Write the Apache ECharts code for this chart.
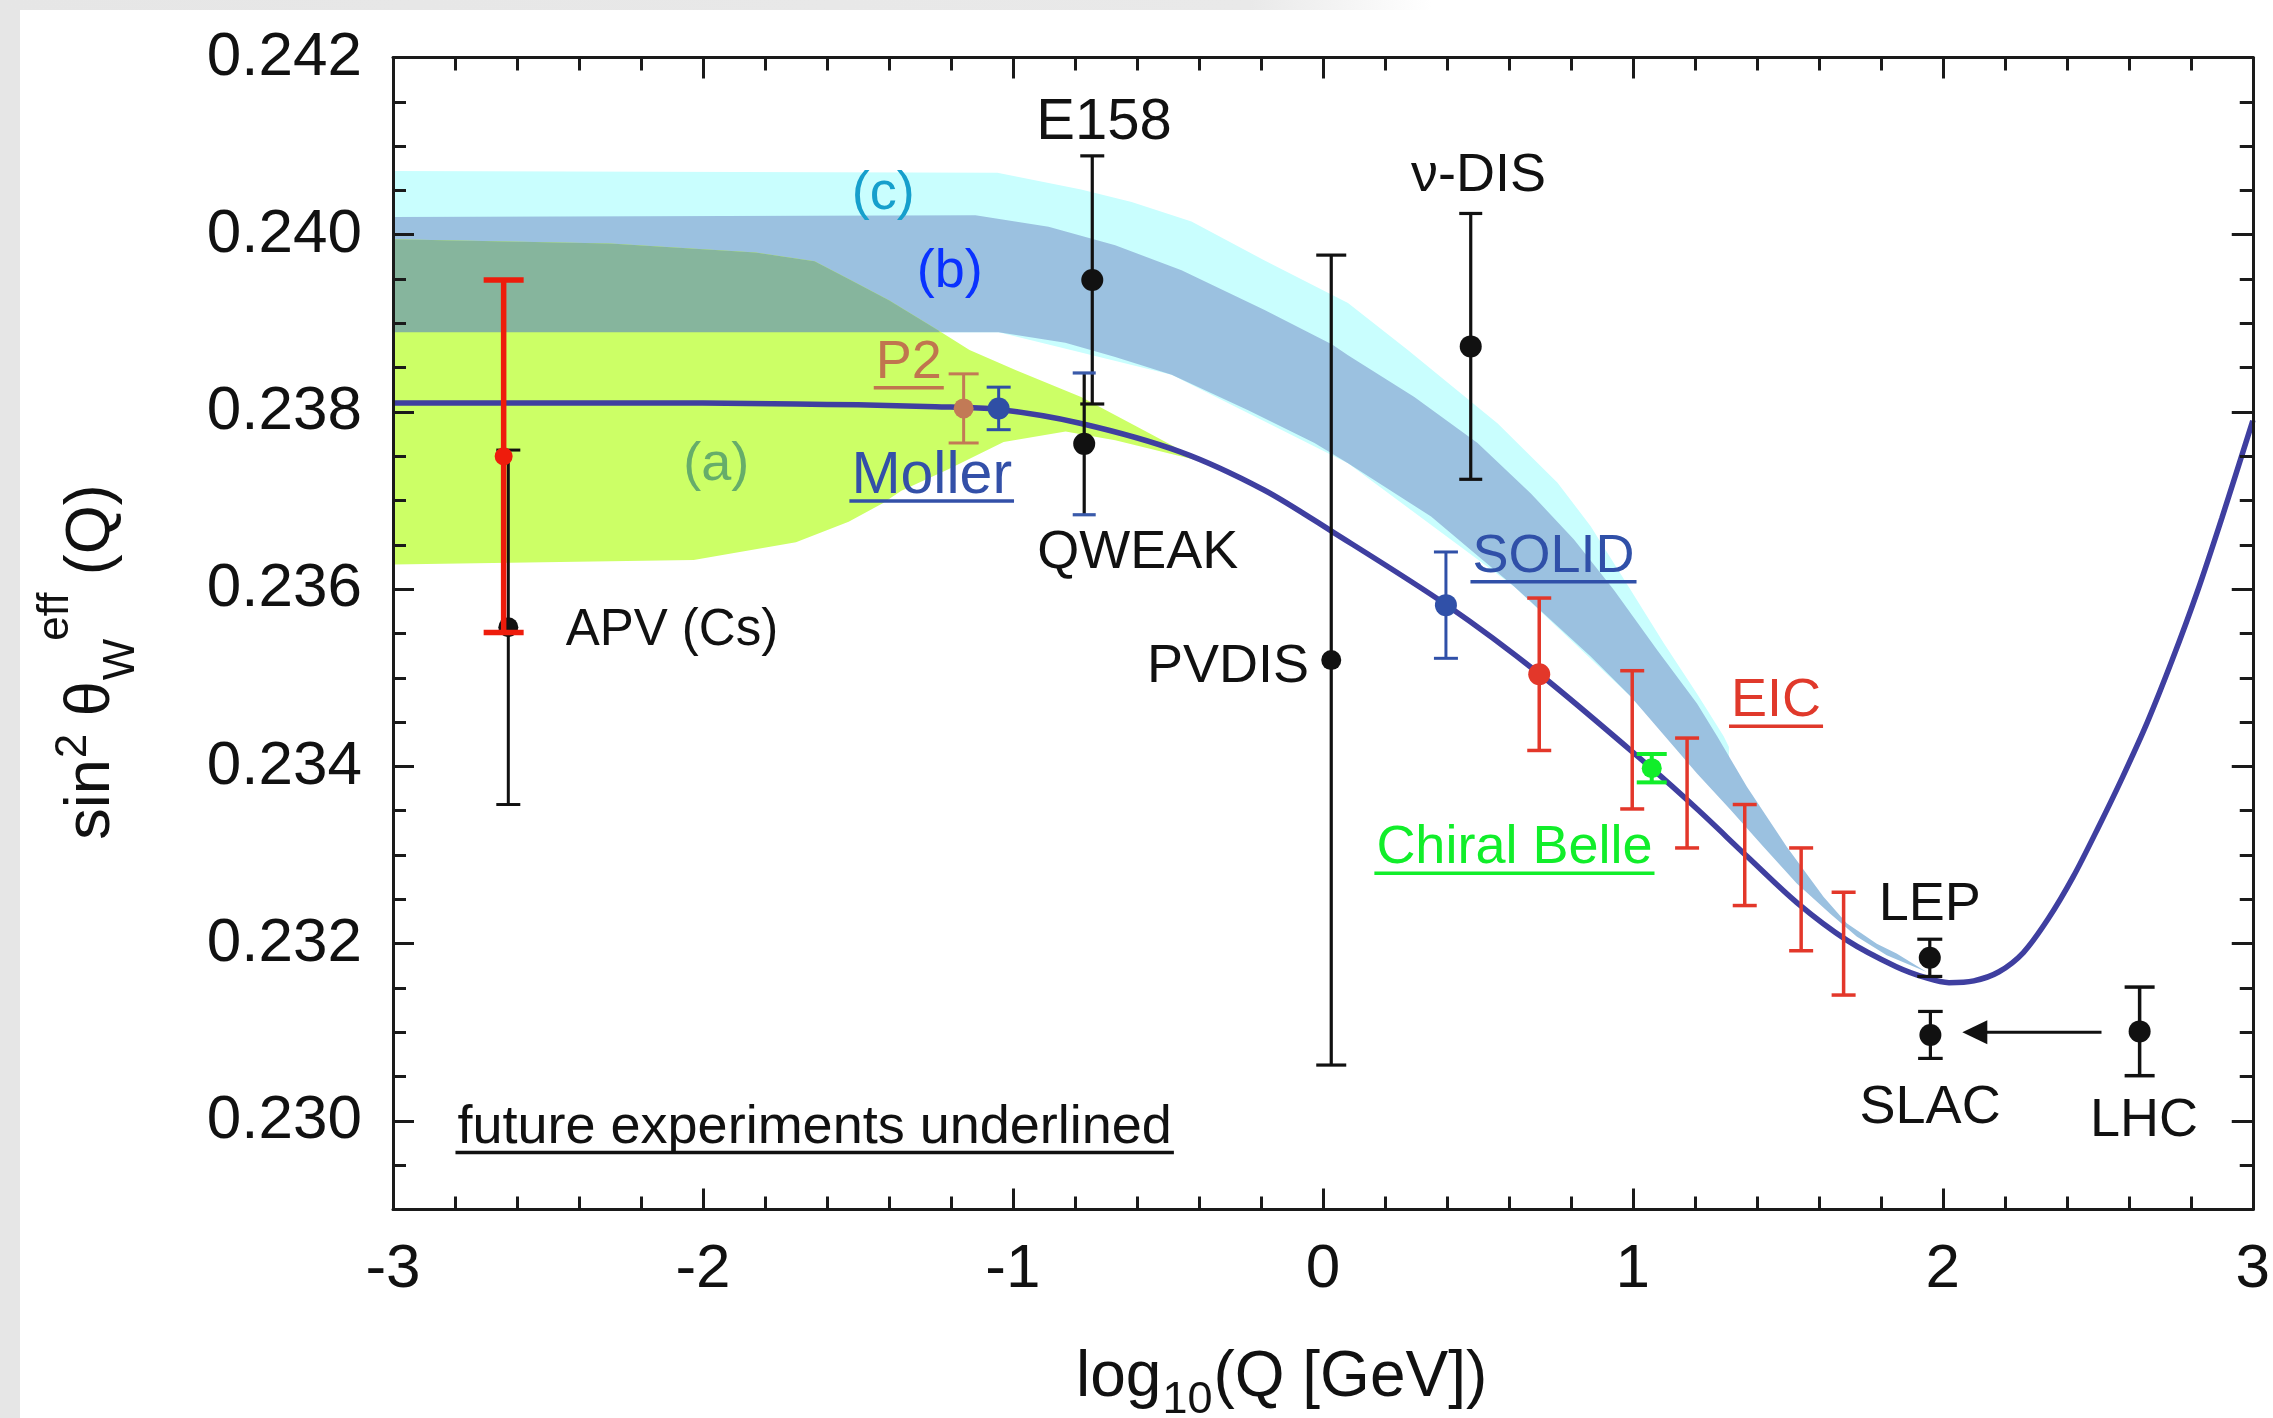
<!DOCTYPE html>
<html>
<head>
<meta charset="utf-8">
<script src="https://cdn.jsdelivr.net/npm/echarts@6/dist/echarts.min.js"></script>
<style>
html,body{margin:0;padding:0;background:#ffffff;}
#c{width:2273px;height:1418px;}
</style>
</head>
<body>
<div id="c"></div>
<script>
// ---------------- DATA ----------------
const xTicks = [-3, -2, -1, 0, 1, 2, 3];
const yTicks = [0.230, 0.232, 0.234, 0.236, 0.238, 0.240, 0.242];

// Standard-model running curve
const smX = [-3, -2.5, -2, -1.7, -1.5, -1.25, -1.05, -0.78, -0.46, -0.19, 0.03, 0.40, 0.70, 1.06, 1.21, 1.37, 1.53, 1.69, 1.85, 1.95, 2.02, 2.10, 2.18, 2.26, 2.34, 2.42, 2.50, 2.58, 2.66, 2.74, 2.82, 2.90, 3.00];
const smY = [0.23810, 0.23810, 0.23810, 0.23809, 0.23808, 0.23806, 0.23803, 0.23787, 0.23755, 0.23712, 0.23665, 0.23582, 0.23504, 0.23398, 0.23351, 0.23298, 0.23246, 0.23204, 0.23174, 0.23161, 0.23156, 0.23158, 0.23168, 0.23190, 0.23228, 0.23275, 0.23330, 0.23388, 0.23450, 0.23520, 0.23596, 0.23680, 0.23790];

// Band (c) edges
const cUpper = [[-3, 0.24072], [-1.05, 0.24070], [-0.78, 0.24051], [-0.617, 0.24037], [-0.424, 0.24015], [-0.188, 0.23971], [0.081, 0.23923], [0.274, 0.23870], [0.564, 0.23787], [0.757, 0.23720], [0.864, 0.23671], [0.993, 0.23599], [1.100, 0.23539], [1.207, 0.23482], [1.293, 0.23434], [1.31, 0.23422]];
const cLower = [[1.31, 0.23355], [0.993, 0.23479], [0.617, 0.23603], [0.081, 0.23742], [-0.488, 0.23842], [-1.046, 0.23890], [-3, 0.23890]];
// Band (b) edges
const bUpper = [[-3, 0.24020], [-1.121, 0.24022], [-0.885, 0.24009], [-0.670, 0.23988], [-0.456, 0.23960], [-0.188, 0.23915], [0.03, 0.23876], [0.081, 0.23864], [0.295, 0.23817], [0.499, 0.23765], [0.671, 0.23708], [0.810, 0.23656], [0.939, 0.23599], [1.079, 0.23531], [1.207, 0.23471], [1.272, 0.23434], [1.368, 0.23377], [1.497, 0.23309], [1.615, 0.23253], [1.690, 0.23223], [1.787, 0.23200], [1.851, 0.23189], [1.948, 0.23168]];
const bLower = [[-3, 0.23890], [-1.046, 0.23890], [-0.831, 0.23878], [-0.670, 0.23862], [-0.488, 0.23842], [-0.241, 0.23802], [-0.027, 0.23765], [0.081, 0.23742], [0.349, 0.23682], [0.617, 0.23603], [0.864, 0.23524], [0.993, 0.23479], [1.207, 0.23392], [1.315, 0.23351], [1.422, 0.23309], [1.529, 0.23268], [1.636, 0.23234], [1.722, 0.23208], [1.819, 0.23187], [1.948, 0.23168]];
// Band (a) edges
const aUpper = [[-3, 0.23995], [-2.3, 0.23990], [-1.83, 0.23980], [-1.64, 0.23970], [-1.53, 0.23950], [-1.40, 0.23926], [-1.24, 0.23892], [-1.14, 0.23870], [-0.99, 0.23847], [-0.78, 0.23817], [-0.56, 0.23776], [-0.39, 0.23744]];
const aLower = [[-0.39, 0.23744], [-0.67, 0.23768], [-0.83, 0.23778], [-1.03, 0.23766], [-1.21, 0.23735], [-1.36, 0.23711], [-1.42, 0.23697], [-1.53, 0.23676], [-1.70, 0.23653], [-2.03, 0.23633], [-3, 0.23628]];
// overlap of (a) and (b)
const abUpper = [[-3, 0.23995], [-2.3, 0.23990], [-1.83, 0.23980], [-1.64, 0.23970], [-1.53, 0.23950], [-1.40, 0.23926], [-1.24, 0.23892], [-1.235, 0.23890]];
const abLower = [[-1.235, 0.23890], [-3, 0.23890]];

// Measurements: [log10 Q, sin2theta, error]
const apvCs      = [[-2.628, 0.23557, 0.00200]];
const apvFuture  = [[-2.643, 0.23750, 0.00199]];
const p2         = [[-1.159, 0.23804, 0.00039]];
const moller     = [[-1.046, 0.23804, 0.00024]];
const e158       = [[-0.744, 0.23949, 0.00140]];
const qweak      = [[-0.770, 0.23764, 0.00080]];
const pvdis      = [[0.027, 0.23520, 0.00457]];
const nuDis      = [[0.477, 0.23874, 0.00150]];
const solid      = [[0.397, 0.23582, 0.00060]];
const eicPoint   = [[0.698, 0.23504, 0.00086]];
const eicBars    = [[0.998, 0.23430, 0.00078], [1.175, 0.23370, 0.00062], [1.361, 0.23300, 0.00057], [1.543, 0.23250, 0.00058], [1.680, 0.23200, 0.00058]];
const chiralBelle= [[1.061, 0.23398, 0.00016]];
const lep        = [[1.958, 0.23184, 0.00021]];
const slac       = [[1.960, 0.23097, 0.000265]];
const lhc        = [[2.635, 0.23101, 0.00050]];
const lhcArrow   = [[2.512, 0.23100, 2.063, 0.23100]];

// Text annotations: [text, x, y, color, align, underlined]
const notes = [
  ['E158', -0.706, 0.24132, '#111111', 'center', false],
  ['\u03bd-DIS', 0.502, 0.24072, '#111111', 'center', false],
  ['(c)', -1.418, 0.24052, '#169fcc', 'center', false],
  ['(b)', -1.204, 0.23964, '#0a32ff', 'center', false],
  ['P2', -1.336, 0.23861, '#c0754f', 'center', true],
  ['Moller', -1.262, 0.23733, '#3350a8', 'center', true],
  ['(a)', -1.957, 0.23746, '#66ad6a', 'center', false],
  ['QWEAK', -0.597, 0.23646, '#111111', 'center', false],
  ['APV (Cs)', -2.443, 0.23558, '#111111', 'left', false],
  ['PVDIS', -0.045, 0.23518, '#111111', 'right', false],
  ['SOLID', 0.744, 0.23642, '#3050a8', 'center', true],
  ['EIC', 1.462, 0.23479, '#e0392b', 'center', true],
  ['Chiral Belle', 0.618, 0.23313, '#11ee2a', 'center', true],
  ['LEP', 1.958, 0.23249, '#111111', 'center', false],
  ['SLAC', 1.959, 0.23020, '#111111', 'center', false],
  ['LHC', 2.649, 0.23005, '#111111', 'center', false],
  ['future experiments underlined', -2.792, 0.22998, '#111111', 'left', true]
];

// ---------------- CHART ----------------
const FONT = '"Liberation Sans", Arial, Helvetica, sans-serif';
const mctx = document.createElement('canvas').getContext('2d');
function textW(t, size) { mctx.font = size + 'px ' + FONT; return mctx.measureText(t).width; }

const chart = echarts.init(document.getElementById('c'), null, {renderer: 'canvas'});

function bandSeries(name, upper, lower, color, z) {
  return {
    type: 'custom', name: name, z: z, silent: true, clip: true,
    data: [[upper[0][0], upper[0][1]]],
    renderItem: function (params, api) {
      const pts = upper.concat(lower).map(function (p) { return api.coord(p); });
      return {type: 'polygon', shape: {points: pts}, style: {fill: color, stroke: null}};
    }
  };
}

function errSeries(name, data, st) {
  return {
    type: 'custom', name: name, z: st.z || 5, silent: true, clip: false,
    data: data,
    renderItem: function (params, api) {
      const x = api.value(0), y = api.value(1), e = api.value(2);
      const lo = api.coord([x, y - e]), hi = api.coord([x, y + e]), c = api.coord([x, y]);
      const cap = st.cap, lw = st.lw, clw = st.capLw || st.lw;
      const ch = [
        {type: 'line', shape: {x1: lo[0], y1: lo[1], x2: hi[0], y2: hi[1]}, style: {stroke: st.color, lineWidth: lw}},
        {type: 'line', shape: {x1: lo[0] - cap, y1: lo[1], x2: lo[0] + cap, y2: lo[1]}, style: {stroke: st.capColor || st.color, lineWidth: clw}},
        {type: 'line', shape: {x1: hi[0] - cap, y1: hi[1], x2: hi[0] + cap, y2: hi[1]}, style: {stroke: st.capColor || st.color, lineWidth: clw}}
      ];
      if (st.r) ch.push({type: 'circle', shape: {cx: c[0], cy: c[1], r: st.r}, style: {fill: st.dotColor || st.color}});
      return {type: 'group', children: ch};
    }
  };
}

const NOTE_SIZE = 54;
const NOTE_SIZE_OVERRIDE = {'E158': 58, 'Moller': 59, 'APV (Cs)': 51};
const noteSeries = {
  type: 'custom', name: 'labels', z: 8, silent: true, clip: false,
  data: notes.map(function (n) { return [n[1], n[2]]; }),
  renderItem: function (params, api) {
    const n = notes[params.dataIndex];
    const p = api.coord([api.value(0), api.value(1)]);
    const size = NOTE_SIZE_OVERRIDE[n[0]] || NOTE_SIZE;
    const font = size + 'px ' + FONT;
    const align = n[4];
    const ty = p[1] + 5;
    const ch = [{type: 'text', x: p[0], y: ty, style: {text: n[0], fill: n[3], font: font, textAlign: align, textVerticalAlign: 'middle', align: align, verticalAlign: 'middle'}}];
    if (n[5]) {
      const w = textW(n[0], size);
      const x0 = align === 'center' ? p[0] - w / 2 : (align === 'left' ? p[0] : p[0] - w);
      ch.push({type: 'rect', shape: {x: x0 - 2, y: ty + 23, width: w + 4, height: 3.5}, style: {fill: n[3]}});
    }
    return {type: 'group', children: ch};
  }
};

const arrowSeries = {
  type: 'custom', name: 'arrow', z: 6, silent: true, clip: false,
  data: lhcArrow,
  renderItem: function (params, api) {
    const a = api.coord([api.value(0), api.value(1)]);
    const b = api.coord([api.value(2), api.value(3)]);
    const dx = b[0] - a[0], dy = b[1] - a[1], L = Math.sqrt(dx * dx + dy * dy);
    const ux = dx / L, uy = dy / L, hl = 25, hw = 12;
    const bx = b[0] - ux * hl, by = b[1] - uy * hl;
    return {type: 'group', children: [
      {type: 'line', shape: {x1: a[0], y1: a[1], x2: bx + ux * 2, y2: by + uy * 2}, style: {stroke: '#111', lineWidth: 3}},
      {type: 'polygon', shape: {points: [[b[0], b[1]], [bx - uy * hw, by + ux * hw], [bx + uy * hw, by - ux * hw]]}, style: {fill: '#111'}}
    ]};
  }
};

// axis titles built as text runs (with sub/superscripts)
function runGroup(runs, ox, oy, rotation) {
  let x = 0; const ch = [];
  runs.forEach(function (r) {
    ch.push({type: 'text', x: x, y: r.dy - 0.30 * r.size, style: {text: r.t, font: r.size + 'px ' + FONT, fill: '#111', textAlign: 'left', textVerticalAlign: 'middle', align: 'left', verticalAlign: 'middle'}});
    x += textW(r.t, r.size) + (r.gap || 0);
  });
  return {type: 'group', x: ox, y: oy, rotation: rotation || 0, children: ch, total: x};
}
const yTitleRuns = [
  {t: 'sin', size: 63, dy: 0, gap: 1},
  {t: '2', size: 44, dy: -24},
  {t: ' \u03b8', size: 63, dy: 0, gap: 1},
  {t: 'W', size: 44, dy: 24, gap: -2},
  {t: 'eff', size: 44, dy: -42},
  {t: ' (Q)', size: 63, dy: 0}
];
const yTitle = runGroup(yTitleRuns, 111, 0, Math.PI / 2);
yTitle.y = 662 + yTitle.total / 2;
delete yTitle.total;
const xTitleRuns = [
  {t: 'log', size: 64, dy: 0, gap: 1},
  {t: '10', size: 45, dy: 16, gap: 1},
  {t: '(Q [GeV])', size: 64, dy: 0}
];
const xTitle = runGroup(xTitleRuns, 1076, 1398, 0);
delete xTitle.total;

const LINE = {color: '#1a1a1a', width: 3};
function yAxisDef(pos, major) {
  const d = {
    type: 'value', z: 10, position: pos, min: 0.229, max: 0.242,
    splitLine: {show: false},
    axisLine: {show: major, onZero: false, lineStyle: LINE},
    axisLabel: {show: false}
  };
  if (major) {
    d.axisTick = {show: true, inside: true, length: 21, customValues: yTicks, lineStyle: LINE};
  } else {
    d.interval = 0.0005;
    d.axisTick = {show: true, inside: true, length: 13, lineStyle: LINE};
  }
  return d;
}
const yLeft = yAxisDef('left', true);
yLeft.axisLabel = {show: true, margin: 31, fontSize: 62, fontFamily: FONT, color: '#111', padding: [9, 0, 0, 0],
  customValues: yTicks, formatter: function (v) { return v.toFixed(3); }};

function xAxisDef(pos, labels) {
  return {
    type: 'value', z: 10, position: pos, min: -3, max: 3, interval: 1,
    splitLine: {show: false},
    axisLine: {show: true, onZero: false, lineStyle: LINE},
    axisTick: {show: true, inside: true, length: 21, lineStyle: LINE},
    minorTick: {show: true, splitNumber: 5, length: 13, lineStyle: LINE},
    axisLabel: labels ? {show: true, margin: 29, fontSize: 62, fontFamily: FONT, color: '#111',
      customValues: xTicks, formatter: function (v) { return String(Math.round(v)); }} : {show: false}
  };
}

const option = {
  animation: false,
  backgroundColor: '#ffffff',
  graphic: [
    {type: 'rect', z: -10, shape: {x: 0, y: 0, width: 20, height: 1418}, style: {fill: '#e6e6e6'}},
    {type: 'rect', z: -10, shape: {x: 0, y: 0, width: 2273, height: 10}, style: {fill: new echarts.graphic.LinearGradient(0, 0, 1, 0, [{offset: 0, color: '#e6e6e6'}, {offset: 0.55, color: '#e9e9e9'}, {offset: 0.63, color: '#ffffff'}, {offset: 1, color: '#ffffff'}])}},
    yTitle, xTitle
  ],
  grid: {left: 393, right: 16, top: 57.5, bottom: 208.5, containLabel: false},
  xAxis: [xAxisDef('bottom', true), xAxisDef('top', false)],
  yAxis: [yLeft, yAxisDef('left', false), yAxisDef('right', true), yAxisDef('right', false)],
  series: [
    bandSeries('band c', cUpper, cLower, '#c9fefe', 1),
    bandSeries('band b', bUpper, bLower.slice().reverse(), '#9bc1e0', 1),
    bandSeries('band a', aUpper, aLower, '#ccff66', 1),
    bandSeries('band ab', abUpper, abLower, '#86b59d', 1),
    {
      type: 'line', name: 'SM', z: 3, silent: true, showSymbol: false, smooth: 0.3, clip: true,
      data: smX.map(function (x, i) { return [x, smY[i]]; }),
      lineStyle: {color: '#3f3fa0', width: 5.5}
    },
    errSeries('APV Cs', apvCs, {color: '#111', lw: 3, cap: 12, r: 10}),
    errSeries('APV future', apvFuture, {color: '#ee1c0c', lw: 5.5, cap: 20, r: 9, z: 6}),
    errSeries('P2', p2, {color: '#c27a56', lw: 3, cap: 15, r: 10}),
    errSeries('Moller', moller, {color: '#2f4fa5', lw: 3, cap: 12, r: 11}),
    errSeries('E158', e158, {color: '#111', lw: 3.2, cap: 12, r: 11}),
    errSeries('QWEAK', qweak, {color: '#111', capColor: '#3a5aaa', lw: 3.2, cap: 11.5, r: 11}),
    errSeries('PVDIS', pvdis, {color: '#111', lw: 3.2, cap: 15, r: 10}),
    errSeries('nu-DIS', nuDis, {color: '#111', lw: 3.2, cap: 11.5, r: 11}),
    errSeries('SOLID', solid, {color: '#3050a8', lw: 3, cap: 12, r: 11}),
    errSeries('EIC', eicPoint, {color: '#e3372a', lw: 3.5, cap: 12, r: 11}),
    errSeries('EIC bars', eicBars, {color: '#e3372a', lw: 3.5, cap: 12, r: 0}),
    errSeries('Chiral Belle', chiralBelle, {color: '#11ee2a', lw: 4, cap: 15, r: 10}),
    errSeries('LEP', lep, {color: '#111', lw: 3.2, cap: 12.5, r: 11}),
    errSeries('SLAC', slac, {color: '#111', lw: 3.2, cap: 12.3, r: 11}),
    errSeries('LHC', lhc, {color: '#111', lw: 3.5, cap: 15, r: 11}),
    arrowSeries,
    noteSeries
  ]
};
chart.setOption(option);
</script>
</body>
</html>
